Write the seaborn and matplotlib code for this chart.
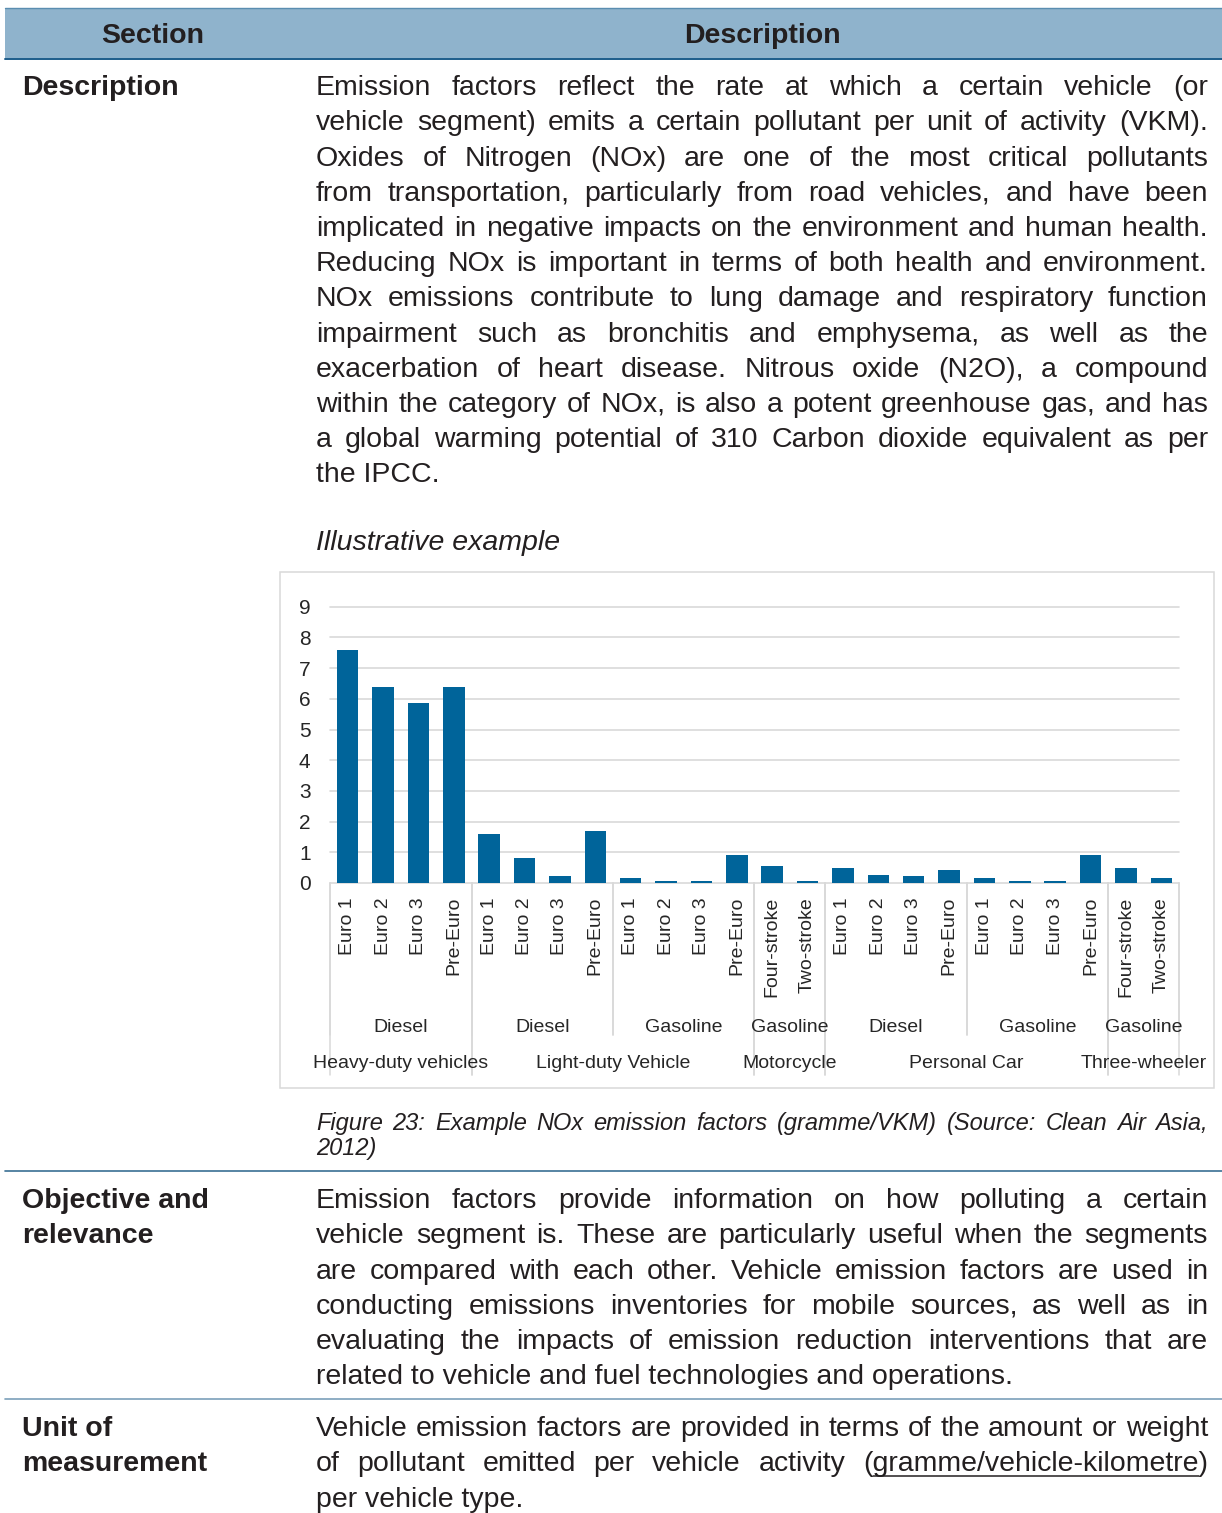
import numpy as np
import pandas as pd
import matplotlib
matplotlib.use("Agg")
import matplotlib.pyplot as plt
import matplotlib.transforms as mtransforms
from matplotlib.patches import Rectangle
from matplotlib.lines import Line2D
import seaborn as sns

# chart data (NOx, gramme/VKM)
vehicles = (["Heavy-duty vehicles"] * 4 + ["Light-duty Vehicle"] * 8 + ["Motorcycle"] * 2
            + ["Personal Car"] * 8 + ["Three-wheeler"] * 2)
fuels = (["Diesel"] * 4 + ["Diesel"] * 4 + ["Gasoline"] * 4 + ["Gasoline"] * 2
         + ["Diesel"] * 4 + ["Gasoline"] * 4 + ["Gasoline"] * 2)
standards = (["Euro 1", "Euro 2", "Euro 3", "Pre-Euro"] * 3 + ["Four-stroke", "Two-stroke"]
             + ["Euro 1", "Euro 2", "Euro 3", "Pre-Euro"] * 2 + ["Four-stroke", "Two-stroke"])
nox = [7.6, 6.4, 5.85, 6.4,
       1.58, 0.81, 0.22, 1.69,
       0.16, 0.05, 0.05, 0.92,
       0.55, 0.05,
       0.49, 0.27, 0.22, 0.43,
       0.16, 0.05, 0.05, 0.92,
       0.49, 0.16]
y_ticks = list(range(10))

# table text
header = ["Section", "Description"]
desc_lines = [
    "Emission factors reflect the rate at which a certain vehicle (or",
    "vehicle segment) emits a certain pollutant per unit of activity (VKM).",
    "Oxides of Nitrogen (NOx) are one of the most critical pollutants",
    "from transportation, particularly from road vehicles, and have been",
    "implicated in negative impacts on the environment and human health.",
    "Reducing NOx is important in terms of both health and environment.",
    "NOx emissions contribute to lung damage and respiratory function",
    "impairment such as bronchitis and emphysema, as well as the",
    "exacerbation of heart disease. Nitrous oxide (N2O), a compound",
    "within the category of NOx, is also a potent greenhouse gas, and has",
    "a global warming potential of 310 Carbon dioxide equivalent as per",
    "the IPCC.",
]
example_title = "Illustrative example"
caption_lines = [
    "Figure 23: Example NOx emission factors (gramme/VKM) (Source: Clean Air Asia,",
    "2012)",
]
objective_label = ["Objective and", "relevance"]
objective_lines = [
    "Emission factors provide information on how polluting a certain",
    "vehicle segment is. These are particularly useful when the segments",
    "are compared with each other. Vehicle emission factors are used in",
    "conducting emissions inventories for mobile sources, as well as in",
    "evaluating the impacts of emission reduction interventions that are",
    "related to vehicle and fuel technologies and operations.",
]
unit_label = ["Unit of", "measurement"]
unit_lines = [
    "Vehicle emission factors are provided in terms of the amount or weight",
    "of pollutant emitted per vehicle activity (gramme/vehicle-kilometre)",
    "per vehicle type.",
]

W, H = 1222, 1513
TXT = "#231f20"
GRID = "#d9d9d9"
CHART_FS = 14


def fx(x):
    return x / W


def fy(y):
    return 1 - y / H


sns.set_style("white")
plt.rcParams["font.family"] = ["Liberation Sans", "DejaVu Sans"]

fig = plt.figure(figsize=(W / 100, H / 100), dpi=100)
rend = fig.canvas.get_renderer()


def hline(y, x0, x1, color, lw):
    fig.add_artist(Line2D([fx(x0), fx(x1)], [fy(y), fy(y)], color=color, lw=lw,
                          transform=fig.transFigure))


def put_line(text, y, x0, x1=None, size=20.5, **kw):
    # y is the visual middle of the capitals, in pixels from the top
    base = y + 0.358 * size * 100 / 72
    words = text.split(" ")
    if x1 is None or len(words) == 1:
        return [fig.text(fx(x0), fy(base), text, fontsize=size, color=TXT, **kw)]
    ts = [fig.text(0, fy(base), w, fontsize=size, color=TXT, **kw) for w in words]
    widths = [t.get_window_extent(rend).width for t in ts]
    gap = (x1 - x0 - sum(widths)) / (len(words) - 1)
    x = x0
    for t, w in zip(ts, widths):
        t.set_x(fx(x))
        x += w + gap
    return ts


def paragraph(lines, y0, step=35.2, x0=316, x1=1208, size=20.5, **kw):
    out = []
    for i, ln in enumerate(lines):
        last = i == len(lines) - 1
        out.append(put_line(ln, y0 + i * step, x0, None if last else x1, size=size, **kw))
    return out


# header band
fig.add_artist(Rectangle((fx(5), fy(58)), fx(1222) - fx(5), (58 - 8) / H,
                         facecolor="#8fb3cc", edgecolor="none", transform=fig.transFigure))
hline(7.5, 5, 1222, "#5a8db0", 1.0)
hline(58.5, 5, 1222, "#1b5c8a", 1.4)
fig.text(fx(153), fy(43), header[0], fontsize=20.5, weight="bold", color=TXT, ha="center")
fig.text(fx(762), fy(43), header[1], fontsize=20.5, weight="bold", color=TXT, ha="center")

# row 1
put_line("Description", 85, 22, weight="bold")
paragraph(desc_lines, 85)
put_line(example_title, 540, 316, style="italic")
paragraph(caption_lines, 1122, step=25, size=17, style="italic")
hline(1170.5, 5, 1222, "#3a6f93", 1.2)

# row 2
for i, s in enumerate(objective_label):
    put_line(s, 1198 + i * 35.2, 22, weight="bold")
paragraph(objective_lines, 1198)
hline(1398.5, 5, 1222, "#7ba0ba", 1.2)

# row 3
for i, s in enumerate(unit_label):
    put_line(s, 1426 + i * 35.2, 22, weight="bold")
unit_texts = paragraph(unit_lines, 1426)
tmp = fig.text(0, 0, "(", fontsize=20.5)
pw = tmp.get_window_extent(rend).width
tmp.remove()
for t in unit_texts[1]:
    if t.get_text().startswith("(gramme"):
        bb = t.get_window_extent(rend)
        uy = fy(1461.2 + 0.358 * 20.5 * 100 / 72 + 4.5)
        fig.add_artist(Line2D([(bb.x0 + pw) / W, (bb.x1 - pw) / W], [uy, uy], color=TXT,
                              lw=1.1, transform=fig.transFigure))

# chart frame (drawn behind the axes)
fig.add_artist(Rectangle((fx(280), fy(1088)), fx(1214) - fx(280), (1088 - 572) / H,
                         facecolor="none", edgecolor=GRID, lw=1.1, zorder=-1,
                         transform=fig.transFigure))

ax = fig.add_axes([fx(330), fy(883), fx(1179) - fx(330), (883 - 606.7) / H])
df = pd.DataFrame({"slot": range(len(nox)), "nox": nox})
sns.barplot(data=df, x="slot", y="nox", color="#00649a", saturation=1, width=0.61,
            linewidth=0, ax=ax, zorder=3)
ax.set_xlim(-0.5, len(nox) - 0.5)
ax.set_ylim(0, 9)
ax.set_yticks(y_ticks)
ax.set_xlabel("")
ax.set_ylabel("")
ax.yaxis.grid(True, color=GRID, lw=1.2)
for gl in ax.get_ygridlines():
    gl.set_clip_on(False)
ax.set_axisbelow(True)
for s in ax.spines.values():
    s.set_visible(False)
ax.set_xticks(range(len(nox)))
ax.set_xticklabels(standards, rotation=90, fontsize=CHART_FS, color="#262626")
ax.tick_params(axis="x", length=0, pad=10)
ax.tick_params(axis="y", length=0, pad=14, labelsize=15, labelcolor="#262626")
ax.patch.set_alpha(0)

trans = mtransforms.blended_transform_factory(ax.transData, fig.transFigure)


def runs(keys):
    out, start = [], 0
    for i in range(1, len(keys) + 1):
        if i == len(keys) or keys[i] != keys[start]:
            out.append((start, i))
            start = i
    return out


off = 0.358 * CHART_FS * 100 / 72
for s, e in runs(list(zip(vehicles, fuels))):
    for b in (s - 0.5, e - 0.5):
        ax.plot([b, b], [fy(883), fy(1035)], transform=trans, color=GRID, lw=1.1, clip_on=False)
    ax.text((s + e - 1) / 2, fy(1025 + off), fuels[s], transform=trans, ha="center",
            fontsize=CHART_FS, color="#262626")
for s, e in runs(vehicles):
    for b in (s - 0.5, e - 0.5):
        ax.plot([b, b], [fy(883), fy(1075)], transform=trans, color=GRID, lw=1.1, clip_on=False)
    ax.text((s + e - 1) / 2, fy(1061 + off), vehicles[s], transform=trans, ha="center",
            fontsize=CHART_FS, color="#262626")

fig.savefig("out.png", dpi=100)
